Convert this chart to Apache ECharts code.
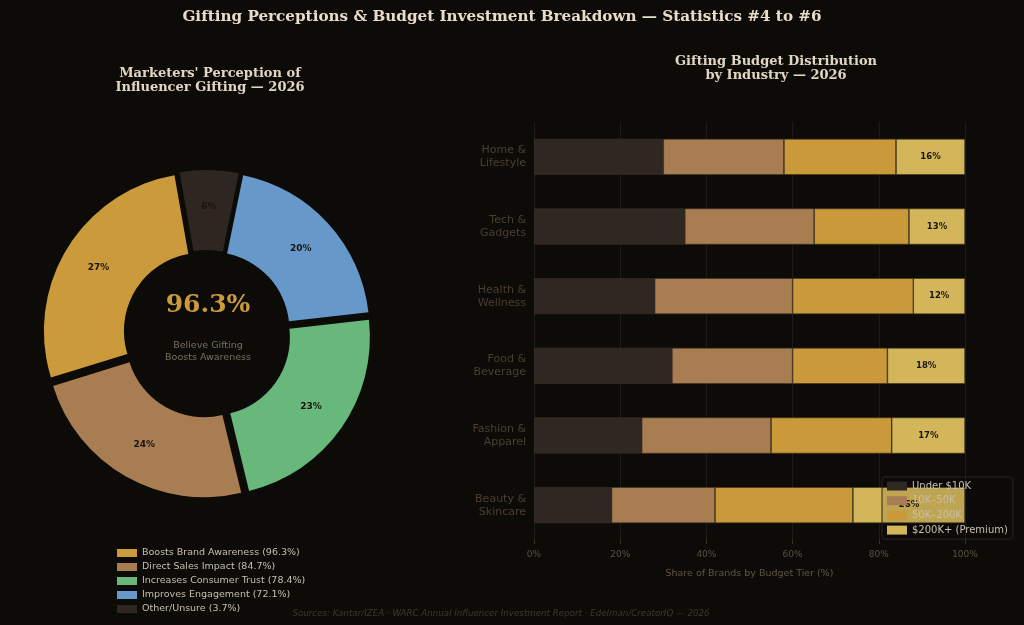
<!DOCTYPE html>
<html>
<head>
<meta charset="utf-8">
<script src="https://cdn.jsdelivr.net/npm/echarts@6/dist/echarts.min.js"></script>
<style>
html,body{margin:0;padding:0;background:#0d0b08;}
#chart{width:1024px;height:625px;}
</style>
</head>
<body>
<div id="chart"></div>
<script>
// ---- Data ----
const pieNames = ['Boosts Brand Awareness', 'Direct Sales Impact', 'Increases Consumer Trust', 'Improves Engagement', 'Other/Unsure'];
const pieShares = [27, 24, 23, 20, 6];
const pieLegendPct = [96.3, 84.7, 78.4, 72.1, 3.7];
const pieColors = ['#cb9a3b', '#a97d52', '#67b87a', '#6699c9', '#2e2621'];

const industries = ['Home &\nLifestyle', 'Tech &\nGadgets', 'Health &\nWellness', 'Food &\nBeverage', 'Fashion &\nApparel', 'Beauty &\nSkincare'];
const tierNames = ['Under $10K', '10K–50K', '50K–200K', '$200K+ (Premium)'];
const tierColors = ['#2f2722', '#a97d52', '#c9993a', '#d4b65a'];
const under10k = [30, 35, 28, 32, 25, 18];
const k10to50 = [28, 30, 32, 28, 30, 24];
const k50to200 = [26, 22, 28, 22, 28, 32];
const k200plus = [16, 13, 12, 18, 17, 26];
const tierValues = [under10k, k10to50, k50to200, k200plus];

const sans = 'DejaVu Sans';
const serif = 'DejaVu Serif';

const chart = echarts.init(document.getElementById('chart'), null, {renderer: 'canvas'});

const pieLegendMap = {};
pieNames.forEach((n, i) => pieLegendMap[n] = pieLegendPct[i]);

const barSeries = tierNames.map((name, i) => ({
  name: name,
  type: 'bar',
  stack: 'total',
  barWidth: 36,
  data: tierValues[i],
  itemStyle: {color: tierColors[i], borderColor: '#3e3322', borderWidth: 0.6},
  label: i === 3 ? {
    show: true, position: 'inside', formatter: '{c}%',
    color: '#1a1510', fontFamily: sans, fontWeight: 'bold', fontSize: 8.5
  } : {show: false},
  emphasis: {disabled: true},
  z: 2
}));

const option = {
  backgroundColor: '#0d0b08',
  animation: false,
  title: [
    {text: 'Gifting Perceptions & Budget Investment Breakdown — Statistics #4 to #6',
     left: 497, top: 5, textAlign: 'center',
     textStyle: {fontFamily: serif, fontWeight: 'bold', fontSize: 15.2, color: '#e8dcc8'}},
    {text: "Marketers' Perception of\nInfluencer Gifting — 2026",
     left: 205, top: 61, textAlign: 'center',
     textStyle: {fontFamily: serif, fontWeight: 'bold', fontSize: 13, lineHeight: 14.5, color: '#e2d6c2'}},
    {text: 'Gifting Budget Distribution\nby Industry — 2026',
     left: 771, top: 49, textAlign: 'center',
     textStyle: {fontFamily: serif, fontWeight: 'bold', fontSize: 13, lineHeight: 14.5, color: '#e2d6c2'}},
    {text: 'Sources: Kantar/IZEA · WARC Annual Influencer Investment Report · Edelman/CreatorIQ — 2026',
     left: 496, top: 604, textAlign: 'center',
     textStyle: {fontFamily: sans, fontStyle: 'italic', fontWeight: 'normal', fontSize: 8.7, color: '#40372a'}}
  ],
  graphic: [
    {type: 'text', x: 208, y: 305, z: 100, style: {
      text: '96.3%', textAlign: 'center', textVerticalAlign: 'middle',
      font: 'bold 25px "DejaVu Serif"', fill: '#cb9a3b'}},
    {type: 'text', x: 208, y: 352, z: 100, style: {
      text: 'Believe Gifting\nBoosts Awareness', textAlign: 'center', textVerticalAlign: 'middle',
      font: '9.5px "DejaVu Sans"', lineHeight: 12, fill: '#7a6e5c'}}
  ],
  legend: [
    {
      data: pieNames,
      orient: 'vertical', left: 112, top: 542,
      icon: 'rect',
      itemWidth: 20, itemHeight: 8, itemGap: 2,
      itemStyle: {borderWidth: 0},
      formatter: n => n + ' (' + pieLegendMap[n] + '%)',
      textStyle: {fontFamily: sans, fontSize: 9.5, lineHeight: 12, color: '#c8bfae'},
      selectedMode: false
    },
    {
      data: tierNames,
      orient: 'vertical', left: 882, top: 477,
      padding: [3, 5, 3, 5],
      icon: 'rect',
      itemWidth: 20, itemHeight: 9, itemGap: 2.7,
      itemStyle: {borderWidth: 0},
      textStyle: {fontFamily: sans, fontSize: 10, lineHeight: 12, color: '#c8bfae'},
      backgroundColor: 'rgba(13,11,8,0.1)',
      borderColor: '#2a251e', borderWidth: 1, borderRadius: 3,
      selectedMode: false, z: 10
    }
  ],
  grid: {left: 534, right: 59, top: 122, bottom: 85, containLabel: false},
  xAxis: {
    type: 'value', min: 0, max: 100, interval: 20,
    name: 'Share of Brands by Budget Tier (%)', nameLocation: 'middle', nameGap: 29,
    nameTextStyle: {fontFamily: sans, fontSize: 9.5, color: '#5e5545'},
    axisLine: {show: false},
    axisTick: {show: true, length: 4, lineStyle: {color: '#3a3328'}},
    axisLabel: {formatter: v => v + '%', fontFamily: sans, fontSize: 9, color: '#5a5040', margin: 10},
    splitLine: {show: true, lineStyle: {color: '#1f1c17', width: 1}}
  },
  yAxis: {
    type: 'category', data: industries, inverse: true,
    axisLine: {show: false}, axisTick: {show: false},
    axisLabel: {fontFamily: sans, fontSize: 11, lineHeight: 13, color: '#4a3f30', margin: 8, align: 'right'}
  },
  series: [
    {
      type: 'pie',
      center: [207, 334],
      radius: [78, 158],
      startAngle: 100,
      clockwise: false,
      selectedMode: 'multiple',
      selectedOffset: 6,
      avoidLabelOverlap: false,
      data: pieNames.map((n, i) => ({
        name: n, value: pieShares[i], selected: true,
        itemStyle: {color: pieColors[i]}
      })),
      label: {show: true, position: 'inside', formatter: '{c}%',
        fontFamily: sans, fontWeight: 'bold', fontSize: 9, color: '#1a1510'},
      labelLine: {show: false},
      emphasis: {disabled: true}
    },
    ...barSeries
  ]
};
chart.setOption(option);
</script>
</body>
</html>
